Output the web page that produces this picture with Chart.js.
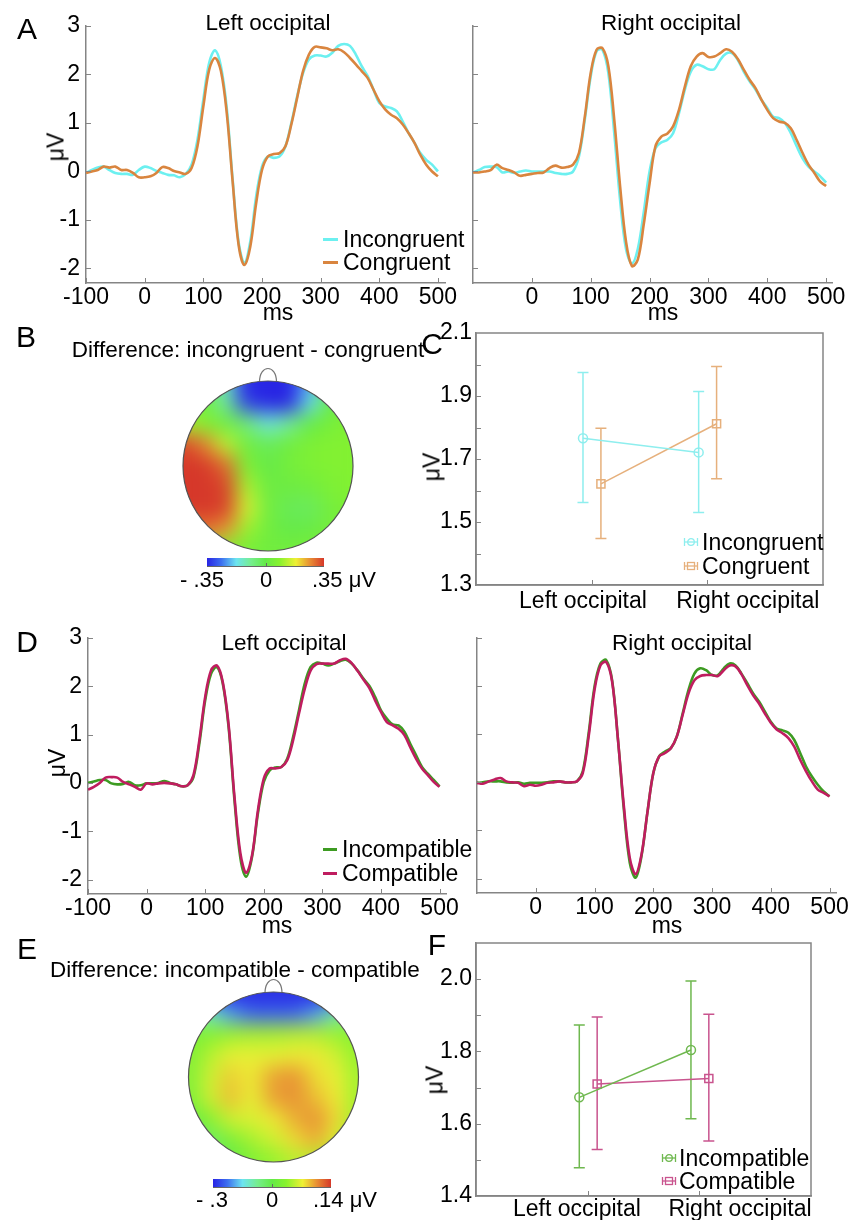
<!DOCTYPE html>
<html><head><meta charset="utf-8">
<script src="https://cdn.jsdelivr.net/npm/chart.js@4.4.1/dist/chart.umd.min.js"></script>
<style>
html,body{margin:0;padding:0;background:#fff}
#fig{position:relative;width:852px;height:1220px;overflow:hidden;font-family:'Liberation Sans',Arial,Helvetica,sans-serif;color:#000}
#fig canvas{position:absolute;left:0;top:0}
.c{position:absolute;white-space:nowrap;line-height:1;transform:translate(-50%,-50%)}
.lft{position:absolute;white-space:nowrap;line-height:1;transform:translate(0,-50%)}
.rot{position:absolute;white-space:nowrap;line-height:1;transform:translate(-50%,-50%) rotate(-90deg)}
.let{font-size:30px}
.ttl{font-size:22.5px}
.ax{font-size:23px}
.cb{font-size:22px}
.sw{position:absolute;height:3px}
.sym{position:absolute}
</style></head><body>
<div id="fig">
<canvas id="cAL" width="852" height="1220"></canvas>
<canvas id="cAR" width="852" height="1220"></canvas>
<canvas id="cB" width="852" height="1220"></canvas>
<canvas id="cC" width="852" height="1220"></canvas>
<canvas id="cDL" width="852" height="1220"></canvas>
<canvas id="cDR" width="852" height="1220"></canvas>
<canvas id="cE" width="852" height="1220"></canvas>
<canvas id="cF" width="852" height="1220"></canvas>

<div class="c let" style="left:27px;top:29px">A</div>
<div class="c ttl" style="left:268px;top:23px">Left occipital</div>
<div class="c ttl" style="left:671px;top:23px">Right occipital</div>
<div class="c ax" style="left:278px;top:312px">ms</div>
<div class="c ax" style="left:663px;top:312px">ms</div>
<div class="rot ax" style="left:56px;top:147px">μV</div>
<div class="sw" style="left:323px;top:237.5px;width:15px;background:#6cf0f0"></div>
<div class="lft ax" style="left:343px;top:239px">Incongruent</div>
<div class="sw" style="left:323px;top:260.5px;width:15px;background:#d9853f"></div>
<div class="lft ax" style="left:343px;top:262px">Congruent</div>

<div class="c let" style="left:26px;top:337px">B</div>
<div class="c ttl" style="left:248px;top:350px">Difference: incongruent - congruent</div>
<div class="c cb" style="left:202px;top:580px">- .35</div>
<div class="c cb" style="left:266px;top:580px">0</div>
<div class="lft cb" style="left:312px;top:580px">.35 μV</div>

<div class="c let" style="left:432px;top:344px">C</div>
<div class="rot ax" style="left:432px;top:467px">μV</div>
<svg class="sym" style="left:683px;top:537px" width="16" height="10"><g stroke="#8eeeee" stroke-width="1.3" fill="none"><line x1="1" y1="5" x2="15" y2="5"/><line x1="1.5" y1="1" x2="1.5" y2="9"/><line x1="14.5" y1="1" x2="14.5" y2="9"/><circle cx="8" cy="5" r="3.3"/></g></svg>
<div class="lft ax" style="left:702px;top:542px">Incongruent</div>
<svg class="sym" style="left:683px;top:561px" width="16" height="10"><g stroke="#e6b07c" stroke-width="1.3" fill="none"><line x1="1" y1="5" x2="15" y2="5"/><line x1="1.5" y1="1" x2="1.5" y2="9"/><line x1="14.5" y1="1" x2="14.5" y2="9"/><rect x="4.5" y="1.5" width="7" height="7"/></g></svg>
<div class="lft ax" style="left:702px;top:566px">Congruent</div>

<div class="c let" style="left:27px;top:642px">D</div>
<div class="c ttl" style="left:284px;top:643px">Left occipital</div>
<div class="c ttl" style="left:682px;top:643px">Right occipital</div>
<div class="c ax" style="left:277px;top:925px">ms</div>
<div class="c ax" style="left:667px;top:925px">ms</div>
<div class="rot ax" style="left:57px;top:763px">μV</div>
<div class="sw" style="left:323px;top:847.5px;width:14px;background:#3d9b22"></div>
<div class="lft ax" style="left:342px;top:849px">Incompatible</div>
<div class="sw" style="left:323px;top:871.5px;width:14px;background:#bf1d5f"></div>
<div class="lft ax" style="left:342px;top:873px">Compatible</div>

<div class="c let" style="left:27px;top:949px">E</div>
<div class="c ttl" style="left:235px;top:970px">Difference: incompatible - compatible</div>
<div class="c cb" style="left:212px;top:1200px">- .3</div>
<div class="c cb" style="left:272px;top:1200px">0</div>
<div class="lft cb" style="left:313px;top:1200px">.14 μV</div>

<div class="c let" style="left:437px;top:945px">F</div>
<div class="rot ax" style="left:435px;top:1080px">μV</div>
<svg class="sym" style="left:661px;top:1153px" width="16" height="10"><g stroke="#6fb84f" stroke-width="1.3" fill="none"><line x1="1" y1="5" x2="15" y2="5"/><line x1="1.5" y1="1" x2="1.5" y2="9"/><line x1="14.5" y1="1" x2="14.5" y2="9"/><circle cx="8" cy="5" r="3.3"/></g></svg>
<div class="lft ax" style="left:679px;top:1158px">Incompatible</div>
<svg class="sym" style="left:661px;top:1176px" width="16" height="10"><g stroke="#c9548e" stroke-width="1.3" fill="none"><line x1="1" y1="5" x2="15" y2="5"/><line x1="1.5" y1="1" x2="1.5" y2="9"/><line x1="14.5" y1="1" x2="14.5" y2="9"/><rect x="4.5" y="1.5" width="7" height="7"/></g></svg>
<div class="lft ax" style="left:679px;top:1181px">Compatible</div>
</div>

<script>
// ---------- DATA ----------
const TIMES = [-100,-90,-80,-70,-60,-50,-40,-30,-20,-10,0,10,20,30,40,50,60,70,80,90,100,110,120,130,140,150,160,170,180,190,200,210,220,230,240,250,260,270,280,290,300,310,320,330,340,350,360,370,380,390,400,410,420,430,440,450,460,470,480,490,500];
const X_TICKS_LEFT = [-100,0,100,200,300,400,500];
const X_TICKS_RIGHT = [0,100,200,300,400,500];
const Y_TICKS_ERP = [-2,-1,0,1,2,3];

// Panel A, left occipital
const A_LEFT_INCONGRUENT = [-0.03,0.03,0.08,0.1,0.03,-0.03,-0.05,-0.05,-0.07,0.03,
  0.1,0.07,0.01,-0.03,-0.07,-0.08,-0.12,-0.05,0.14,0.65,
  1.48,2.24,2.5,2.17,1.3,-0.17,-1.45,-1.88,-1.45,-0.52,
  0.1,0.31,0.28,0.31,0.52,1.0,1.55,2.03,2.31,2.39,
  2.39,2.37,2.45,2.59,2.63,2.59,2.41,2.17,1.97,1.69,
  1.41,1.34,1.31,1.24,1.03,0.79,0.59,0.38,0.24,0.14,0.0];
const A_LEFT_CONGRUENT = [-0.03,0,0.03,0.1,0.08,0.1,0.03,0.03,-0.03,-0.12,
  -0.12,-0.1,-0.03,0.09,0.07,0.01,-0.02,-0.05,0.07,0.52,
  1.34,2.1,2.34,2.07,1.2,-0.21,-1.5,-1.93,-1.55,-0.66,
  0.03,0.31,0.36,0.38,0.52,0.97,1.52,2.07,2.41,2.57,
  2.56,2.54,2.5,2.52,2.46,2.34,2.21,2.07,1.93,1.69,
  1.45,1.28,1.17,1.1,0.97,0.79,0.59,0.34,0.14,0,-0.1];
// Panel A, right occipital
const A_RIGHT_INCONGRUENT = [-0.02,0.03,0.09,0.1,0.09,-0.02,0,-0.03,0,0.02,
  0,0,0,0,-0.03,-0.05,-0.05,0,0.31,1.07,
  1.96,2.48,2.51,2.03,0.79,-0.6,-1.6,-1.9,-1.6,-0.85,
  0.0,0.48,0.6,0.65,0.79,1.2,1.69,2.06,2.2,2.17,
  2.11,2.11,2.3,2.43,2.44,2.3,2.06,1.86,1.69,1.48,
  1.31,1.13,1.1,1.0,0.79,0.52,0.27,0.1,0,-0.1,-0.23];
const A_RIGHT_CONGRUENT = [-0.02,-0.02,0,0.03,0.14,0.07,0.03,-0.02,-0.09,-0.07,
  -0.05,-0.03,-0.02,0.07,0.12,0.08,0.09,0.14,0.38,1.13,
  2.03,2.51,2.54,2.17,1.07,-0.31,-1.45,-1.95,-1.82,-1.1,
  -0.25,0.52,0.72,0.78,0.93,1.27,1.75,2.17,2.37,2.44,
  2.36,2.37,2.44,2.52,2.47,2.32,2.1,1.89,1.72,1.48,
  1.27,1.1,1.03,1.0,0.89,0.65,0.38,0.14,-0.03,-0.21,-0.3];
// Panel D, left occipital
const D_LEFT_INCOMPATIBLE = [0,0.03,0.06,0.06,-0.01,-0.03,-0.02,0.02,-0.05,-0.05,
  -0.01,-0.01,0,0.04,0,-0.03,-0.07,-0.05,0.12,0.81,
  1.71,2.26,2.4,2.06,1.15,-0.36,-1.55,-1.94,-1.53,-0.63,
  0.02,0.26,0.32,0.33,0.5,0.95,1.5,2.06,2.4,2.49,
  2.47,2.43,2.47,2.52,2.55,2.47,2.33,2.16,2.01,1.78,
  1.5,1.33,1.21,1.19,1.06,0.81,0.57,0.33,0.19,0.06,-0.07];
const D_LEFT_COMPATIBLE = [-0.14,-0.08,0,0.11,0.12,0.11,0.02,-0.03,-0.08,-0.14,
  -0.01,-0.03,-0.01,0,-0.01,-0.03,-0.07,-0.05,0.16,0.88,
  1.78,2.33,2.43,2.09,1.2,-0.29,-1.45,-1.86,-1.5,-0.57,
  0.09,0.3,0.3,0.33,0.47,0.88,1.43,1.95,2.33,2.46,
  2.47,2.47,2.47,2.54,2.57,2.48,2.32,2.14,1.97,1.71,
  1.47,1.26,1.19,1.12,0.99,0.74,0.5,0.3,0.16,0.02,-0.08];
// Panel D, right occipital
const D_RIGHT_INCOMPATIBLE = [-0.01,0,0.02,0.02,0.02,0,-0.01,0,-0.03,-0.01,
  -0.01,-0.01,0,0.02,0.02,0,0,0.02,0.23,1.02,
  1.99,2.47,2.54,2.12,0.88,-0.57,-1.67,-1.98,-1.53,-0.63,
  0.19,0.54,0.64,0.71,0.95,1.43,1.92,2.26,2.37,2.33,
  2.23,2.23,2.37,2.47,2.43,2.26,2.06,1.85,1.68,1.47,
  1.26,1.12,1.08,1.03,0.88,0.61,0.33,0.12,-0.05,-0.19,-0.29];
const D_RIGHT_COMPATIBLE = [-0.01,-0.03,0.02,0.06,0.09,0.02,0,-0.01,-0.08,-0.05,
  -0.07,-0.05,-0.01,0,0.02,0,0,0.02,0.19,0.95,
  1.92,2.43,2.5,2.09,0.88,-0.5,-1.57,-1.91,-1.5,-0.63,
  0.19,0.54,0.61,0.71,0.95,1.4,1.85,2.12,2.21,2.23,
  2.23,2.21,2.33,2.43,2.41,2.25,2.02,1.81,1.64,1.43,
  1.24,1.1,1.02,0.92,0.74,0.47,0.23,0.02,-0.15,-0.22,-0.29];

// Panels C and F (means with error bars)
const SITES = ['Left occipital','Right occipital'];
const C_INC_MEAN = [1.766,1.721], C_INC_LOW = [1.562,1.530], C_INC_HIGH = [1.975,1.914];
const C_CON_MEAN = [1.621,1.812], C_CON_LOW = [1.448,1.637], C_CON_HIGH = [1.798,1.994];
const C_Y_TICKS = [1.3,1.5,1.7,1.9,2.1];
const C_Y_MINOR = [1.4,1.5,1.6,1.7,1.8,1.9,2.0];
const F_INC_MEAN = [1.673,1.804], F_INC_LOW = [1.478,1.614], F_INC_HIGH = [1.873,1.995];
const F_COM_MEAN = [1.710,1.725], F_COM_LOW = [1.529,1.552], F_COM_HIGH = [1.895,1.903];
const F_Y_TICKS = [1.4,1.6,1.8,2.0];
const F_Y_MINOR = [1.5,1.6,1.7,1.8,1.9,2.0];

// Topographic maps: value grid (μV), rows from front (top) to back, columns left to right
const GRID_POS = [-1,-0.75,-0.5,-0.25,0,0.25,0.5,0.75,1];
const TOPO_B = [
  [0.02,0.0,-0.15,-0.35,-0.45,-0.4,-0.22,-0.03,0.05],
  [0.03,0.02,-0.1,-0.32,-0.45,-0.35,-0.18,0.0,0.05],
  [0.12,0.08,0.02,-0.06,-0.16,-0.1,0.0,0.05,0.07],
  [0.34,0.28,0.14,0.03,-0.02,0.03,0.06,0.07,0.07],
  [0.42,0.4,0.3,0.06,0.0,0.04,0.06,0.07,0.07],
  [0.45,0.45,0.34,0.12,0.02,0.02,0.03,0.06,0.07],
  [0.42,0.42,0.34,0.16,0.03,-0.02,-0.03,0.04,0.06],
  [0.25,0.3,0.26,0.1,0.03,0.0,0.01,0.04,0.06],
  [0.05,0.06,0.06,0.04,0.03,0.04,0.05,0.05,0.06]];
const TOPO_B_RANGE = [-0.35,0.35];
const TOPO_E = [
  [-0.2,-0.3,-0.36,-0.38,-0.38,-0.38,-0.36,-0.3,-0.2],
  [-0.06,-0.12,-0.2,-0.24,-0.24,-0.24,-0.2,-0.1,-0.03],
  [0.02,0.03,0.04,0.045,0.045,0.05,0.05,0.04,0.03],
  [0.02,0.05,0.07,0.07,0.07,0.075,0.075,0.06,0.035],
  [0.02,0.06,0.085,0.075,0.1,0.105,0.08,0.07,0.04],
  [0.015,0.06,0.09,0.07,0.1,0.105,0.09,0.075,0.04],
  [0.0,0.03,0.06,0.065,0.075,0.095,0.105,0.08,0.04],
  [-0.04,-0.03,0.02,0.045,0.06,0.08,0.095,0.065,0.03],
  [-0.04,-0.03,0.0,0.02,0.035,0.05,0.05,0.04,0.02]];
const TOPO_E_RANGE = [-0.3,0.14];

// ---------- STYLE ----------
const FONT = "'Liberation Sans', Arial, Helvetica, sans-serif";
Chart.defaults.font.family = FONT;
const AXIS = '#858585';
const PAGE_W = 852, PAGE_H = 1220, YW = 60, XH = 40;
const CMAP = [[0,[40,36,228]],[0.12,[60,110,240]],[0.25,[108,228,240]],[0.38,[118,238,140]],[0.5,[100,234,72]],[0.62,[136,242,46]],[0.76,[238,240,52]],[0.88,[232,142,52]],[1,[214,56,42]]];
function cmap(t){
  t = Math.max(0, Math.min(1, t));
  for (let i = 1; i < CMAP.length; i++) {
    if (t <= CMAP[i][0]) {
      const [t0,c0] = CMAP[i-1], [t1,c1] = CMAP[i];
      const f = (t - t0) / (t1 - t0);
      return 'rgb(' + c0.map((c,k) => Math.round(c + (c1[k]-c)*f)).join(',') + ')';
    }
  }
  return 'rgb(' + CMAP[CMAP.length-1][1].join(',') + ')';
}
function pad(a){ return {left: a.l - YW, top: a.t, right: PAGE_W - a.r, bottom: PAGE_H - a.b - XH}; }

function innerTicks(xv, yv, box, len){
  len = len || 5;
  return {id:'innerTicks', afterDraw(chart){
    const c = chart.ctx, a = chart.chartArea, sx = chart.scales.x, sy = chart.scales.y;
    c.save(); c.strokeStyle = AXIS; c.lineWidth = 1; c.beginPath();
    xv.forEach(v => { const p = Math.round(sx.getPixelForValue(v)) + 0.5; c.moveTo(p, a.bottom); c.lineTo(p, a.bottom - len); });
    yv.forEach(v => { const p = Math.round(sy.getPixelForValue(v)) + 0.5; c.moveTo(a.left, p); c.lineTo(a.left + len, p); });
    c.stroke();
    if (box) { c.lineWidth = 1.5; c.strokeRect(a.left, a.top, a.width, a.height); }
    c.restore();
  }};
}

const errorBars = {id:'errorBars', beforeDatasetsDraw(chart){
  const c = chart.ctx, sy = chart.scales.y;
  chart.data.datasets.forEach((ds, i) => {
    if (!ds.errLo) return;
    const meta = chart.getDatasetMeta(i);
    c.save(); c.strokeStyle = ds.borderColor; c.lineWidth = 1.5; c.beginPath();
    meta.data.forEach((pt, j) => {
      const x = pt.x, y0 = sy.getPixelForValue(ds.errLo[j]), y1 = sy.getPixelForValue(ds.errHi[j]);
      c.moveTo(x, y0); c.lineTo(x, y1);
      c.moveTo(x - 5.5, y0); c.lineTo(x + 5.5, y0);
      c.moveTo(x - 5.5, y1); c.lineTo(x + 5.5, y1);
    });
    c.stroke(); c.restore();
  });
}};

function erp(id, area, series, xTicks, showY){
  return new Chart(document.getElementById(id), {
    type: 'line',
    data: {datasets: series.map(s => ({
      label: s.label, data: TIMES.map((t, i) => ({x: t, y: s.v[i]})),
      borderColor: s.color, borderWidth: 2.6, pointRadius: 0, tension: 0.35, order: s.order, fill: false
    }))},
    options: {
      responsive: false, animation: false, events: [],
      layout: {padding: pad(area)},
      plugins: {legend: {display: false}, tooltip: {enabled: false}},
      scales: {
        x: {type: 'linear', min: -100, max: area.xmax,
          afterBuildTicks: s => { s.ticks = xTicks.map(v => ({value: v})); },
          afterFit: s => { s.height = XH; },
          grid: {display: false, drawTicks: false}, border: {color: AXIS, width: 1.5},
          ticks: {color: '#000', font: {size: 23}, padding: 1, maxRotation: 0, autoSkip: false, callback: v => String(v)}},
        y: {type: 'linear', min: -2.3, max: 3,
          afterBuildTicks: s => { s.ticks = Y_TICKS_ERP.map(v => ({value: v})); },
          afterFit: s => { s.width = YW; },
          grid: {display: false, drawTicks: false}, border: {color: AXIS, width: 1.5},
          ticks: {display: showY, color: '#000', font: {size: 23}, padding: 6, callback: v => String(v)}}
      }
    },
    plugins: [innerTicks(xTicks, Y_TICKS_ERP, false)]
  });
}

function means(id, area, yMin, yMax, yTicks, yMinor, labelAt, series){
  return new Chart(document.getElementById(id), {
    type: 'line',
    data: {datasets: series.map(s => ({
      label: s.label, data: SITES.map((c, i) => ({x: i + 1 + s.dx, y: s.mean[i]})),
      errLo: s.lo, errHi: s.hi,
      borderColor: s.color, borderWidth: 1.5, tension: 0,
      pointStyle: s.marker, pointRadius: s.r, pointBorderColor: s.color,
      pointBackgroundColor: 'rgba(255,255,255,0)', pointBorderWidth: 1.5
    }))},
    options: {
      responsive: false, animation: false, events: [],
      layout: {padding: pad(area)},
      plugins: {legend: {display: false}, tooltip: {enabled: false}},
      scales: {
        x: {type: 'linear', min: 0, max: 3,
          afterBuildTicks: s => { s.ticks = labelAt.map(v => ({value: v})); },
          afterFit: s => { s.height = XH; },
          grid: {display: false, drawTicks: false}, border: {color: AXIS, width: 1.5},
          ticks: {color: '#000', font: {size: 23}, padding: area.lp, maxRotation: 0, autoSkip: false, callback: (v, i) => SITES[i]}},
        y: {type: 'linear', min: yMin, max: yMax,
          afterBuildTicks: s => { s.ticks = yTicks.map(v => ({value: v})); },
          afterFit: s => { s.width = YW; },
          grid: {display: false, drawTicks: false}, border: {color: AXIS, width: 1.5},
          ticks: {color: '#000', font: {size: 23}, padding: 4, callback: v => v.toFixed(1)}}
      }
    },
    plugins: [errorBars, innerTicks([1, 2], yMinor, true)]
  });
}

function topoPlugin(geo){
  return {id: 'topo',
    afterDatasetsDraw(chart){
      const c = chart.ctx, a = chart.chartArea;
      const cx = (a.left + a.right) / 2, cy = (a.top + a.bottom) / 2, r = a.width / 2;
      const m = 18;
      const x0 = Math.floor(a.left - m), y0 = Math.floor(a.top - m);
      const w = Math.ceil(a.width + 2*m), h = Math.ceil(a.height + 2*m);
      const off = document.createElement('canvas'); off.width = w; off.height = h;
      off.getContext('2d').drawImage(chart.canvas, x0, y0, w, h, 0, 0, w, h);
      c.save();
      c.clearRect(x0, y0, w, h);
      c.beginPath(); c.arc(cx, cy, r, 0, Math.PI*2); c.clip();
      c.filter = 'blur(10px)';
      const s = 1.3;
      c.drawImage(off, cx - (cx - x0) * s, cy - (cy - y0) * s, w * s, h * s);
      c.drawImage(off, x0, y0);
      c.restore();
      c.save();
      c.strokeStyle = '#777'; c.lineWidth = 1.2;
      c.beginPath(); c.moveTo(cx - 8.5, a.top + 1);
      c.bezierCurveTo(cx - 8.5, a.top - 17, cx + 8.5, a.top - 17, cx + 8.5, a.top + 1); c.stroke();
      c.strokeStyle = '#555'; c.lineWidth = 1.2;
      c.beginPath(); c.arc(cx, cy, r, 0, Math.PI*2); c.stroke();
      const g = c.createLinearGradient(geo.bx0, 0, geo.bx1, 0);
      CMAP.forEach(([t, col]) => g.addColorStop(t, 'rgb(' + col.join(',') + ')'));
      c.fillStyle = g; c.fillRect(geo.bx0, geo.by0, geo.bx1 - geo.bx0, geo.by1 - geo.by0);
      c.strokeStyle = '#666'; c.lineWidth = 1;
      c.beginPath(); c.moveTo(geo.bx0, geo.by1 + 0.5); c.lineTo(geo.bx1, geo.by1 + 0.5);
      const mid = Math.round((geo.bx0 + geo.bx1) / 2) + 0.5;
      c.moveTo(mid, geo.by1); c.lineTo(mid, geo.by1 - 3); c.stroke();
      c.restore();
    }};
}

function topo(id, grid, range, geo){
  const tOf = v => v < 0 ? 0.5 + 0.5 * v / (-range[0]) : 0.5 + 0.5 * v / range[1];
  const pts = [];
  grid.forEach((row, ri) => row.forEach((v, ci) => pts.push({x: GRID_POS[ci], y: GRID_POS[GRID_POS.length - 1 - ri], v: v})));
  return new Chart(document.getElementById(id), {
    type: 'scatter',
    data: {datasets: [{data: pts, pointStyle: 'rect', pointRadius: 15.6, pointBorderWidth: 0,
      pointBackgroundColor: ctx => (ctx.raw ? cmap(tOf(ctx.raw.v)) : 'rgba(0,0,0,0)'), clip: false}]},
    options: {
      responsive: false, animation: false, events: [],
      layout: {padding: {left: geo.cx - geo.r, right: PAGE_W - geo.cx - geo.r, top: geo.cy - geo.r, bottom: PAGE_H - geo.cy - geo.r}},
      plugins: {legend: {display: false}, tooltip: {enabled: false}},
      scales: {x: {type: 'linear', min: -1, max: 1, display: false}, y: {type: 'linear', min: -1, max: 1, display: false}}
    },
    plugins: [topoPlugin(geo)]
  });
}

// ---------- CHARTS ----------
erp('cAL', {l: 86, t: 26, r: 445, b: 283, xmax: 512}, [
  {label: 'Incongruent', v: A_LEFT_INCONGRUENT, color: '#6cf0f0', order: 1},
  {label: 'Congruent', v: A_LEFT_CONGRUENT, color: '#d9853f', order: 0}], X_TICKS_LEFT, true);
erp('cAR', {l: 473, t: 26, r: 832, b: 283, xmax: 510}, [
  {label: 'Incongruent', v: A_RIGHT_INCONGRUENT, color: '#6cf0f0', order: 1},
  {label: 'Congruent', v: A_RIGHT_CONGRUENT, color: '#d9853f', order: 0}], X_TICKS_RIGHT, false);
erp('cDL', {l: 88, t: 638, r: 446, b: 894, xmax: 511}, [
  {label: 'Incompatible', v: D_LEFT_INCOMPATIBLE, color: '#3d9b22', order: 1},
  {label: 'Compatible', v: D_LEFT_COMPATIBLE, color: '#bf1d5f', order: 0}], X_TICKS_LEFT, true);
erp('cDR', {l: 477, t: 638, r: 836, b: 893, xmax: 511}, [
  {label: 'Incompatible', v: D_RIGHT_INCOMPATIBLE, color: '#3d9b22', order: 1},
  {label: 'Compatible', v: D_RIGHT_COMPATIBLE, color: '#bf1d5f', order: 0}], X_TICKS_RIGHT, false);

means('cC', {l: 476, t: 333, r: 823, b: 585, lp: 3}, 1.3, 2.1, C_Y_TICKS, C_Y_MINOR, [0.925, 2.35], [
  {label: 'Incongruent', mean: C_INC_MEAN, lo: C_INC_LOW, hi: C_INC_HIGH, color: '#8eeeee', marker: 'circle', r: 4.5, dx: -0.075},
  {label: 'Congruent', mean: C_CON_MEAN, lo: C_CON_LOW, hi: C_CON_HIGH, color: '#e6b07c', marker: 'rect', r: 5.7, dx: 0.08}]);
means('cF', {l: 476, t: 943, r: 811, b: 1196, lp: 0}, 1.4, 2.1, F_Y_TICKS, F_Y_MINOR, [0.904, 2.364], [
  {label: 'Incompatible', mean: F_INC_MEAN, lo: F_INC_LOW, hi: F_INC_HIGH, color: '#6fb84f', marker: 'circle', r: 4.5, dx: -0.075},
  {label: 'Compatible', mean: F_COM_MEAN, lo: F_COM_LOW, hi: F_COM_HIGH, color: '#c9548e', marker: 'rect', r: 5.7, dx: 0.085}]);

topo('cB', TOPO_B, TOPO_B_RANGE, {cx: 268, cy: 466, r: 85, bx0: 207, bx1: 324, by0: 558, by1: 566});
topo('cE', TOPO_E, TOPO_E_RANGE, {cx: 273.5, cy: 1077, r: 85, bx0: 213, bx1: 331, by0: 1179, by1: 1187});
</script>
</body></html>
